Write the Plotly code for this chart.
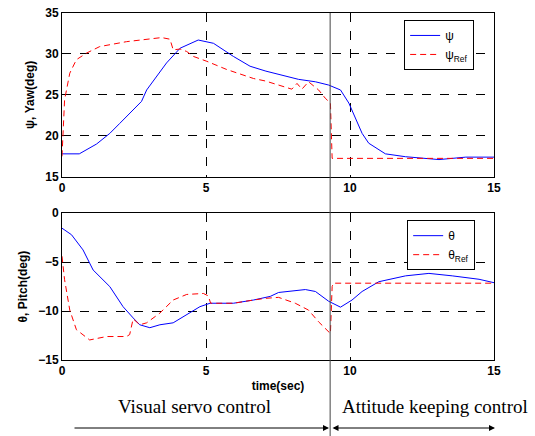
import plotly.graph_objects as go

# ---------------- data ----------------
t_psi = [0, 0.6, 1.2, 1.66, 2.0, 2.76, 2.94, 3.63, 4.10, 4.73, 5.26, 5.95, 6.53, 7.08,
         8.21, 8.80, 9.26, 9.67, 9.96, 10.42, 10.65, 11.23, 11.93, 13.09, 14.02, 15]
psi = [17.8, 17.8, 19.0, 20.3, 21.5, 24.2, 25.6, 28.9, 30.7, 31.7, 31.3, 29.7, 28.5, 27.9,
       26.9, 26.6, 26.2, 25.6, 24.0, 20.3, 19.1, 17.8, 17.45, 17.1, 17.4, 17.4]

t_psi_ref = [0, 0.09, 0.27, 0.5, 0.85, 1.31, 2.24, 3.05, 3.46, 3.75, 3.86, 4.1, 4.33, 4.56,
             5.03, 5.72, 6.65, 7.06, 7.52, 7.98, 8.16, 8.33, 8.56, 8.91, 9.14, 9.32, 9.38, 15]
psi_ref = [17.5, 24.4, 27.65, 29.3, 30.1, 30.9, 31.5, 31.8, 32.0, 31.8, 30.5, 30.6, 30.3, 29.7,
           29.1, 28.1, 27.0, 26.7, 26.2, 25.7, 26.4, 25.7, 26.6, 25.6, 24.6, 24.0, 17.25, 17.25]

t_th = [0, 0.33, 0.73, 1.08, 1.66, 2.12, 2.47, 2.70, 3.05, 3.40, 3.86, 4.33, 4.79, 5.14,
        5.95, 6.65, 7.23, 7.52, 8.45, 8.80, 9.26, 9.67, 10.07, 10.42, 11.0, 11.93, 12.74,
        13.55, 14.48, 15]
theta = [-1.53, -2.2, -3.75, -5.8, -7.5, -9.55, -10.7, -11.4, -11.7, -11.4, -11.2, -10.4,
         -9.55, -9.2, -9.2, -8.87, -8.5, -8.1, -7.8, -8.0, -9.0, -9.6, -8.87, -8.0, -7.0,
         -6.4, -6.15, -6.4, -6.75, -7.1]

t_th_ref = [0, 0.09, 0.27, 0.5, 0.96, 1.55, 2.24, 2.35, 2.47, 2.70, 2.94, 3.40, 3.86, 4.33,
            4.91, 5.08, 5.16, 5.95, 6.65, 7.06, 7.52, 8.10, 8.56, 8.91, 9.32, 9.38, 9.42, 15]
theta_ref = [-4.4, -6.8, -9.9, -11.9, -12.95, -12.6, -12.6, -12.4, -10.8, -11.4, -11.2,
             -10.2, -8.87, -8.3, -8.2, -8.45, -9.2, -9.2, -8.87, -8.7, -8.6, -9.2, -9.9,
             -11.1, -12.3, -7.5, -7.15, -7.15]

switch_time = 9.31
top_yticks = [15, 20, 25, 30, 35]
bot_yticks = [-15, -10, -5, 0]
xticks = [0, 5, 10, 15]

# ---------------- figure ----------------
BLUE = "#0000FF"
RED = "#FF0000"
SANS = "Liberation Sans, Arial"
tickfont = dict(family=SANS, size=12, color="black", weight="bold")
titlefont = dict(family=SANS, size=12, color="black", weight="bold")

fig = go.Figure()
fig.add_trace(go.Scatter(x=t_psi, y=psi, mode="lines", name="ψ",
                         line=dict(color=BLUE, width=1), xaxis="x", yaxis="y", legend="legend"))
fig.add_trace(go.Scatter(x=t_psi_ref, y=psi_ref, mode="lines", name="ψ<sub>Ref</sub>",
                         line=dict(color=RED, width=1, dash="6px,4px"), xaxis="x", yaxis="y",
                         legend="legend"))
fig.add_trace(go.Scatter(x=t_th, y=theta, mode="lines", name="θ",
                         line=dict(color=BLUE, width=1), xaxis="x2", yaxis="y2", legend="legend2"))
fig.add_trace(go.Scatter(x=t_th_ref, y=theta_ref, mode="lines", name="θ<sub>Ref</sub>",
                         line=dict(color=RED, width=1, dash="6px,4px"), xaxis="x2", yaxis="y2",
                         legend="legend2"))

axis_common = dict(showline=True, linecolor="black", linewidth=1, mirror=True,
                   showgrid=True, gridcolor="black", gridwidth=1, griddash="dash",
                   zeroline=False, ticks="", tickfont=tickfont, automargin=False,
                   ticklabeloverflow="allow")

fig.update_layout(
    width=535, height=436,
    margin=dict(l=62, r=41, t=13, b=76),
    paper_bgcolor="white", plot_bgcolor="white",
    font=dict(family=SANS, size=12, color="black"),
    xaxis=dict(domain=[0, 1], range=[0, 15], tickvals=xticks, anchor="y", **axis_common),
    yaxis=dict(domain=[0.528, 1.0], range=[15, 35], tickvals=top_yticks, anchor="x",
               title=dict(text="ψ, Yaw(deg)", standoff=8, font=titlefont),
               **axis_common),
    xaxis2=dict(domain=[0, 1], range=[0, 15], tickvals=xticks, anchor="y2",
                title=dict(text="time(sec)", standoff=4, font=titlefont),
                **axis_common),
    yaxis2=dict(domain=[0, 0.423], range=[-15, 0], tickvals=bot_yticks, anchor="x2",
                title=dict(text="θ, Pitch(deg)", standoff=8, font=titlefont),
                **axis_common),
    legend=dict(x=0.792, y=0.98, xanchor="left", yanchor="top", bgcolor="white",
                bordercolor="black", borderwidth=1, font=dict(size=12), tracegroupgap=0),
    legend2=dict(x=0.799, y=0.403, xanchor="left", yanchor="top", bgcolor="white",
                 bordercolor="black", borderwidth=1, font=dict(size=12), tracegroupgap=0),
    showlegend=True,
)

# vertical separator line spanning both plots down to the arrows
fig.add_shape(type="line", xref="x2", yref="paper", x0=switch_time, x1=switch_time,
              y0=1.0, y1=-0.23, line=dict(color="#444444", width=1))

# arrows (paper coordinates)
PW = 432.0
fig.add_annotation(xref="paper", yref="paper", x=(329 - 62) / PW, y=-0.196,
                   ax=-256, ay=0, axref="pixel", ayref="pixel", showarrow=True,
                   arrowhead=2, arrowsize=1.2, arrowwidth=1, arrowcolor="black", text="")
fig.add_annotation(xref="paper", yref="paper", x=(495 - 62) / PW, y=-0.196,
                   ax=-164, ay=0, axref="pixel", ayref="pixel", showarrow=True,
                   arrowhead=2, arrowside="end+start", arrowsize=1.2, arrowwidth=1,
                   arrowcolor="black", text="")

# phase labels
serif = dict(family="Liberation Serif, Times New Roman", size=19, color="black")
fig.add_annotation(xref="paper", yref="paper", x=(194 - 62) / PW, y=-0.135,
                   text="Visual servo control", showarrow=False, font=serif,
                   xanchor="center", yanchor="middle")
fig.add_annotation(xref="paper", yref="paper", x=(435 - 62) / PW, y=-0.135,
                   text="Attitude keeping control", showarrow=False, font=serif,
                   xanchor="center", yanchor="middle")

# remove the default 8px page margin so the 535x436 figure fills the window exactly
fig.write_html("out.html",
               config={"displayModeBar": False},
               post_script="document.body.style.margin='0';"
                           "document.body.style.overflow='hidden';")
